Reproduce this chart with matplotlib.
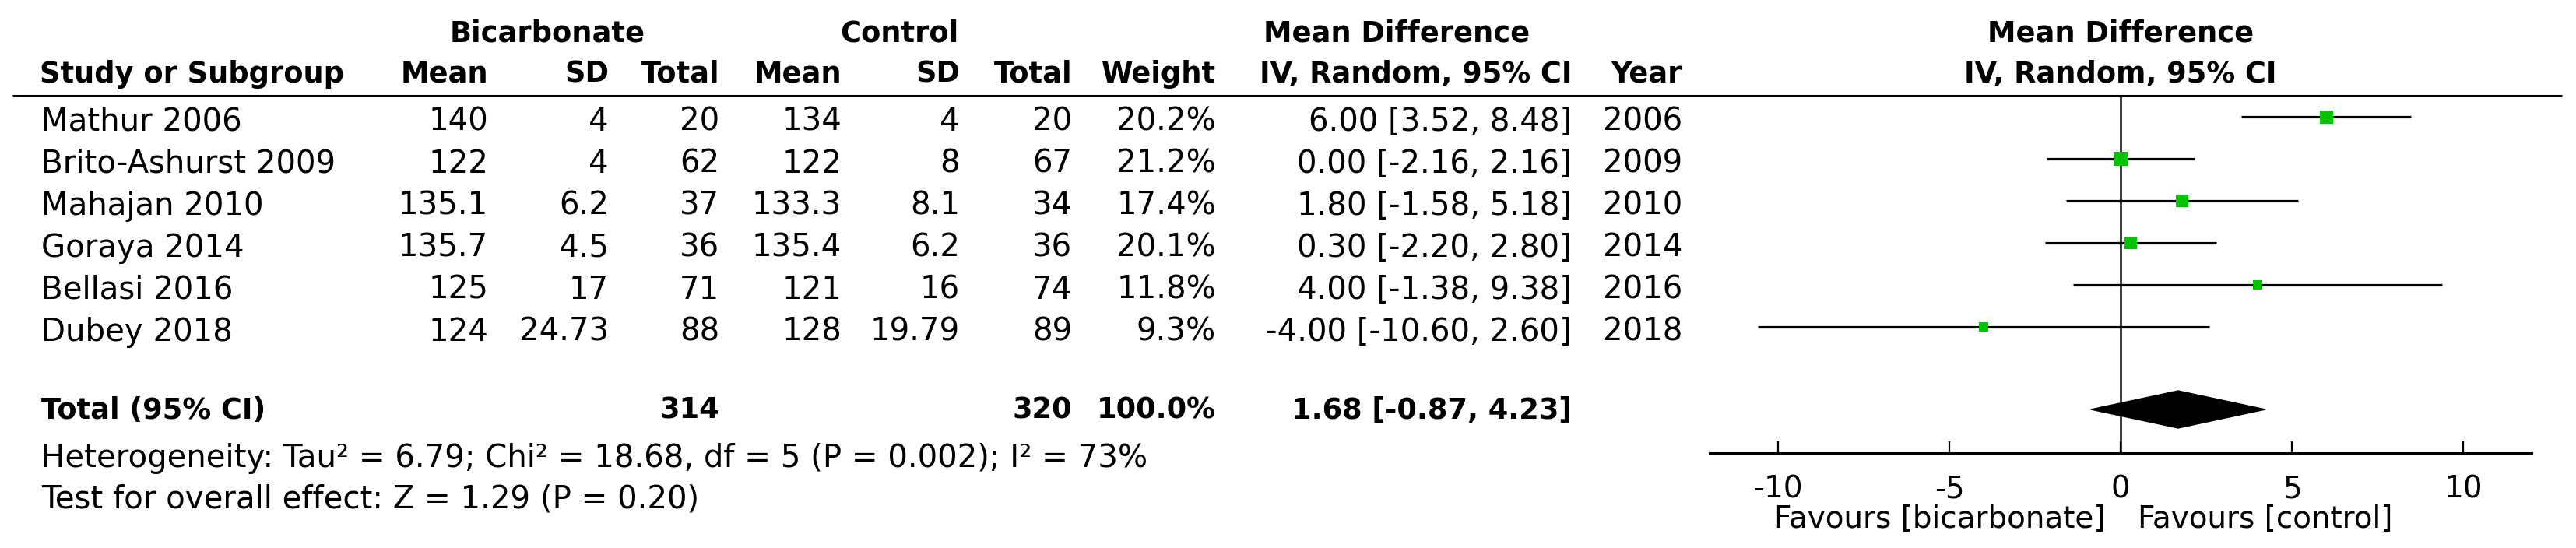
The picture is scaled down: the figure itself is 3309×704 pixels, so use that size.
import numpy as np
import matplotlib
matplotlib.use("Agg")
import matplotlib.pyplot as plt
from matplotlib.patches import Polygon
from matplotlib.lines import Line2D

plt.rcParams['font.family'] = ['DejaVu Sans']
plt.rcParams['axes.unicode_minus'] = False

# ---------------- data ----------------
studies = ["Mathur 2006", "Brito-Ashurst 2009", "Mahajan 2010", "Goraya 2014", "Bellasi 2016", "Dubey 2018"]
bic_mean = [140, 122, 135.1, 135.7, 125, 124]
bic_sd = [4, 4, 6.2, 4.5, 17, 24.73]
bic_n = [20, 62, 37, 36, 71, 88]
ctl_mean = [134, 122, 133.3, 135.4, 121, 128]
ctl_sd = [4, 8, 8.1, 6.2, 16, 19.79]
ctl_n = [20, 67, 34, 36, 74, 89]
weight = [20.2, 21.2, 17.4, 20.1, 11.8, 9.3]
md = [6.00, 0.00, 1.80, 0.30, 4.00, -4.00]
md_lo = [3.52, -2.16, -1.58, -2.20, -1.38, -10.60]
md_hi = [8.48, 2.16, 5.18, 2.80, 9.38, 2.60]
years = [2006, 2009, 2010, 2014, 2016, 2018]

total_bic_n = 314
total_ctl_n = 320
total_weight = 100.0
total_md = 1.68
total_lo = -0.87
total_hi = 4.23

heterogeneity = "Heterogeneity: Tau\u00b2 = 6.79; Chi\u00b2 = 18.68, df = 5 (P = 0.002); I\u00b2 = 73%"
overall = "Test for overall effect: Z = 1.29 (P = 0.20)"
xticks = [-10, -5, 0, 5, 10]
fav_left = "Favours [bicarbonate]"
fav_right = "Favours [control]"

# ---------------- layout ----------------
W, H = 3309, 704
DPI = 100
fig = plt.figure(figsize=(W / DPI, H / DPI), dpi=DPI)
fig.patch.set_facecolor("white")

FS = 29
FSB = 26.5
FSA = 28

# table axes in pixel coordinates
tab = fig.add_axes([0, 0, 1, 1])
tab.set_xlim(0, W)
tab.set_ylim(H, 0)
tab.axis("off")

def g(v):
    return "{:g}".format(v)

row_base = [168 + 54 * i for i in range(len(studies))]
col_right = dict(bm=627, bs=782, bn=924, cm=1081, cs=1233, cn=1377, w=1562, ci=2019, yr=2161)

# headers
tab.text(703, 53, "Bicarbonate", ha="center", va="baseline", fontsize=FSB, fontweight="bold")
tab.text(1155, 53, "Control", ha="center", va="baseline", fontsize=FSB, fontweight="bold")
tab.text(1794, 53, "Mean Difference", ha="center", va="baseline", fontsize=FSB, fontweight="bold")
tab.text(2724, 53, "Mean Difference", ha="center", va="baseline", fontsize=FSB, fontweight="bold")

tab.text(51, 106, "Study or Subgroup", ha="left", va="baseline", fontsize=FSB, fontweight="bold")
for key, lab in [("bm", "Mean"), ("bs", "SD"), ("bn", "Total"), ("cm", "Mean"), ("cs", "SD"),
                 ("cn", "Total"), ("w", "Weight"), ("ci", "IV, Random, 95% CI"), ("yr", "Year")]:
    tab.text(col_right[key], 106, lab, ha="right", va="baseline", fontsize=FSB, fontweight="bold")
tab.text(2724, 106, "IV, Random, 95% CI", ha="center", va="baseline", fontsize=FSB, fontweight="bold")

tab.add_line(Line2D([16, 3291], [123, 123], color="black", lw=2.2, solid_capstyle="butt"))

for i, name in enumerate(studies):
    y = row_base[i]
    tab.text(53, y, name, ha="left", va="baseline", fontsize=FS)
    vals = {
        "bm": g(bic_mean[i]), "bs": g(bic_sd[i]), "bn": str(bic_n[i]),
        "cm": g(ctl_mean[i]), "cs": g(ctl_sd[i]), "cn": str(ctl_n[i]),
        "w": "{:.1f}%".format(weight[i]),
        "ci": "{:.2f} [{:.2f}, {:.2f}]".format(md[i], md_lo[i], md_hi[i]),
        "yr": str(years[i]),
    }
    for key, s in vals.items():
        tab.text(col_right[key], y, s, ha="right", va="baseline", fontsize=FS)

# total row
ty = 538
tab.text(53, ty, "Total (95% CI)", ha="left", va="baseline", fontsize=FSB, fontweight="bold")
tab.text(col_right["bn"], ty, str(total_bic_n), ha="right", va="baseline", fontsize=FSB, fontweight="bold")
tab.text(col_right["cn"], ty, str(total_ctl_n), ha="right", va="baseline", fontsize=FSB, fontweight="bold")
tab.text(col_right["w"], ty, "{:.1f}%".format(total_weight), ha="right", va="baseline", fontsize=FSB, fontweight="bold")
tab.text(col_right["ci"], ty, "{:.2f} [{:.2f}, {:.2f}]".format(total_md, total_lo, total_hi),
         ha="right", va="baseline", fontsize=FSB, fontweight="bold")

tab.text(53, 600, heterogeneity, ha="left", va="baseline", fontsize=FS)
tab.text(53, 653, overall, ha="left", va="baseline", fontsize=FS)

# ---------------- forest axes ----------------
x_left_px, x_right_px = 2196, 3252
y_top_px, y_bot_px = 123, 582
ax = fig.add_axes([x_left_px / W, (H - y_bot_px) / H, (x_right_px - x_left_px) / W, (y_bot_px - y_top_px) / H])
ax.patch.set_alpha(0)
ax.set_xlim(-12, 12)
row_px = 54.0
ax.set_ylim((y_bot_px - 150) / row_px, (y_top_px - 150) / row_px)
for side in ["top", "right", "left"]:
    ax.spines[side].set_visible(False)
ax.spines["bottom"].set_linewidth(2.2)
ax.set_yticks([])
ax.set_xticks(xticks)
ax.set_xticklabels([str(t) for t in xticks], fontsize=FSA)
ax.tick_params(axis="x", direction="in", length=11, width=1.6, pad=20)

ax.axvline(0, color="black", lw=1.8, zorder=1)

rows = np.arange(len(studies))
for i in rows:
    ax.plot([md_lo[i], md_hi[i]], [i, i], color="black", lw=2.3, solid_capstyle="butt", zorder=2)
    side_px = 17.0 * np.sqrt(weight[i] / 20.2)
    ax.plot(md[i], i, marker="s", ms=side_px * 72 / DPI, color="#00C400", mec="#00C400", mew=0, zorder=3)

trow = (526 - 150) / row_px
hh = 24 / row_px
diamond = Polygon([[total_lo, trow], [total_md, trow - hh], [total_hi, trow], [total_md, trow + hh]],
                  closed=True, facecolor="black", edgecolor="black", lw=1, zorder=3)
ax.add_patch(diamond)

# favours labels below axis
fy = (678 - 150) / row_px
t1 = ax.text(-0.45, fy, fav_left, ha="right", va="baseline", fontsize=FSA, transform=ax.transData)
t2 = ax.text(0.5, fy, fav_right, ha="left", va="baseline", fontsize=FSA, transform=ax.transData)
t1.set_clip_on(False)
t2.set_clip_on(False)

fig.savefig("out.png", dpi=DPI, facecolor="white")
